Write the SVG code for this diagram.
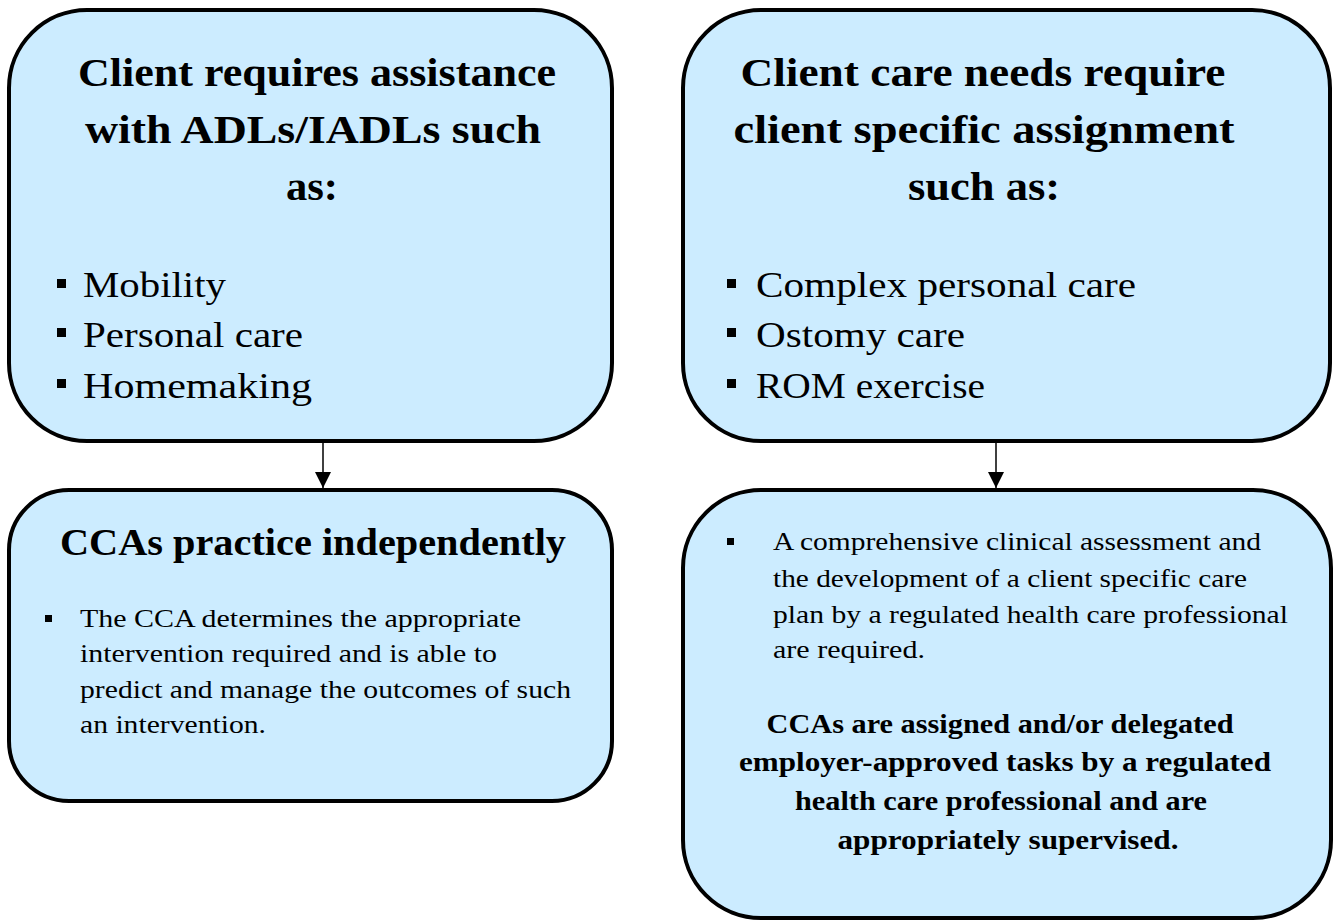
<svg xmlns="http://www.w3.org/2000/svg" width="1339" height="921" viewBox="0 0 1339 921">
  <style>
    .box { fill: #ccecff; stroke: #000; stroke-width: 4; }
    .t { font-family: "Liberation Serif", "DejaVu Serif", serif; fill: #000; }
    .h { font-weight: bold; text-anchor: middle; }
    .big { font-size: 40px; }
    .item { font-size: 36px; }
    .sub { font-size: 37px; font-weight: bold; text-anchor: middle; }
    .body { font-size: 26px; }
    .note { font-size: 28px; font-weight: bold; text-anchor: middle; }
    .sq { fill: #000; }
  </style>
  <defs>
    <marker id="tri" viewBox="0 0 16 16" refX="16" refY="8" markerWidth="16" markerHeight="16" markerUnits="userSpaceOnUse" orient="auto">
      <path d="M0,0 L16,8 L0,16 Z" fill="#000"/>
    </marker>
  </defs>

  <rect width="1339" height="921" fill="#fff"/>

  <g id="connectors">
    <line x1="323" y1="442" x2="323" y2="488" stroke="#000" stroke-width="1.5" marker-end="url(#tri)"/>
    <line x1="996" y1="442" x2="996" y2="488" stroke="#000" stroke-width="1.5" marker-end="url(#tri)"/>
  </g>

  <g id="adl-needs">
    <rect class="box" x="9" y="10" width="603" height="431" rx="78" ry="78"/>
    <text class="t h big" x="317" y="86" textLength="478" lengthAdjust="spacingAndGlyphs">Client requires assistance</text>
    <text class="t h big" x="313" y="143" textLength="456" lengthAdjust="spacingAndGlyphs">with ADLs/IADLs such</text>
    <text class="t h big" x="312" y="200" textLength="52" lengthAdjust="spacingAndGlyphs">as:</text>
    <rect class="sq" x="57" y="279" width="9" height="9"/>
    <rect class="sq" x="57" y="328" width="9" height="9"/>
    <rect class="sq" x="57" y="379" width="9" height="9"/>
    <text class="t item" x="83" y="297" textLength="143" lengthAdjust="spacingAndGlyphs">Mobility</text>
    <text class="t item" x="83" y="347" textLength="220" lengthAdjust="spacingAndGlyphs">Personal care</text>
    <text class="t item" x="83" y="398" textLength="229" lengthAdjust="spacingAndGlyphs">Homemaking</text>
  </g>

  <g id="specific-needs">
    <rect class="box" x="683" y="10" width="647" height="431" rx="78" ry="78"/>
    <text class="t h big" x="983" y="86" textLength="485" lengthAdjust="spacingAndGlyphs">Client care needs require</text>
    <text class="t h big" x="984" y="143" textLength="501" lengthAdjust="spacingAndGlyphs">client specific assignment</text>
    <text class="t h big" x="984" y="200" textLength="152" lengthAdjust="spacingAndGlyphs">such as:</text>
    <rect class="sq" x="727" y="279" width="9" height="9"/>
    <rect class="sq" x="727" y="328" width="9" height="9"/>
    <rect class="sq" x="727" y="379" width="9" height="9"/>
    <text class="t item" x="756" y="297" textLength="380" lengthAdjust="spacingAndGlyphs">Complex personal care</text>
    <text class="t item" x="756" y="347" textLength="209" lengthAdjust="spacingAndGlyphs">Ostomy care</text>
    <text class="t item" x="756" y="398" textLength="229" lengthAdjust="spacingAndGlyphs">ROM exercise</text>
  </g>

  <g id="independent">
    <rect class="box" x="9" y="490" width="603" height="311" rx="60" ry="60"/>
    <text class="t sub" x="313" y="555" textLength="506" lengthAdjust="spacingAndGlyphs">CCAs practice independently</text>
    <rect class="sq" x="45" y="615" width="7" height="7"/>
    <text class="t body" x="80" y="627" textLength="441" lengthAdjust="spacingAndGlyphs">The CCA determines the appropriate</text>
    <text class="t body" x="80" y="662" textLength="417" lengthAdjust="spacingAndGlyphs">intervention required and is able to</text>
    <text class="t body" x="80" y="698" textLength="491" lengthAdjust="spacingAndGlyphs">predict and manage the outcomes of such</text>
    <text class="t body" x="80" y="733" textLength="186" lengthAdjust="spacingAndGlyphs">an intervention.</text>
  </g>

  <g id="assigned">
    <rect class="box" x="683" y="490" width="648" height="428" rx="78" ry="78"/>
    <rect class="sq" x="727" y="538" width="7" height="7"/>
    <text class="t body" x="773" y="550" textLength="488" lengthAdjust="spacingAndGlyphs">A comprehensive clinical assessment and</text>
    <text class="t body" x="773" y="587" textLength="474" lengthAdjust="spacingAndGlyphs">the development of a client specific care</text>
    <text class="t body" x="773" y="623" textLength="515" lengthAdjust="spacingAndGlyphs">plan by a regulated health care professional</text>
    <text class="t body" x="773" y="658" textLength="152" lengthAdjust="spacingAndGlyphs">are required.</text>
    <text class="t note" x="1000" y="733" textLength="467" lengthAdjust="spacingAndGlyphs">CCAs are assigned and/or delegated</text>
    <text class="t note" x="1005" y="771" textLength="532" lengthAdjust="spacingAndGlyphs">employer-approved tasks by a regulated</text>
    <text class="t note" x="1001" y="810" textLength="412" lengthAdjust="spacingAndGlyphs">health care professional and are</text>
    <text class="t note" x="1008" y="849" textLength="341" lengthAdjust="spacingAndGlyphs">appropriately supervised.</text>
  </g>
</svg>
